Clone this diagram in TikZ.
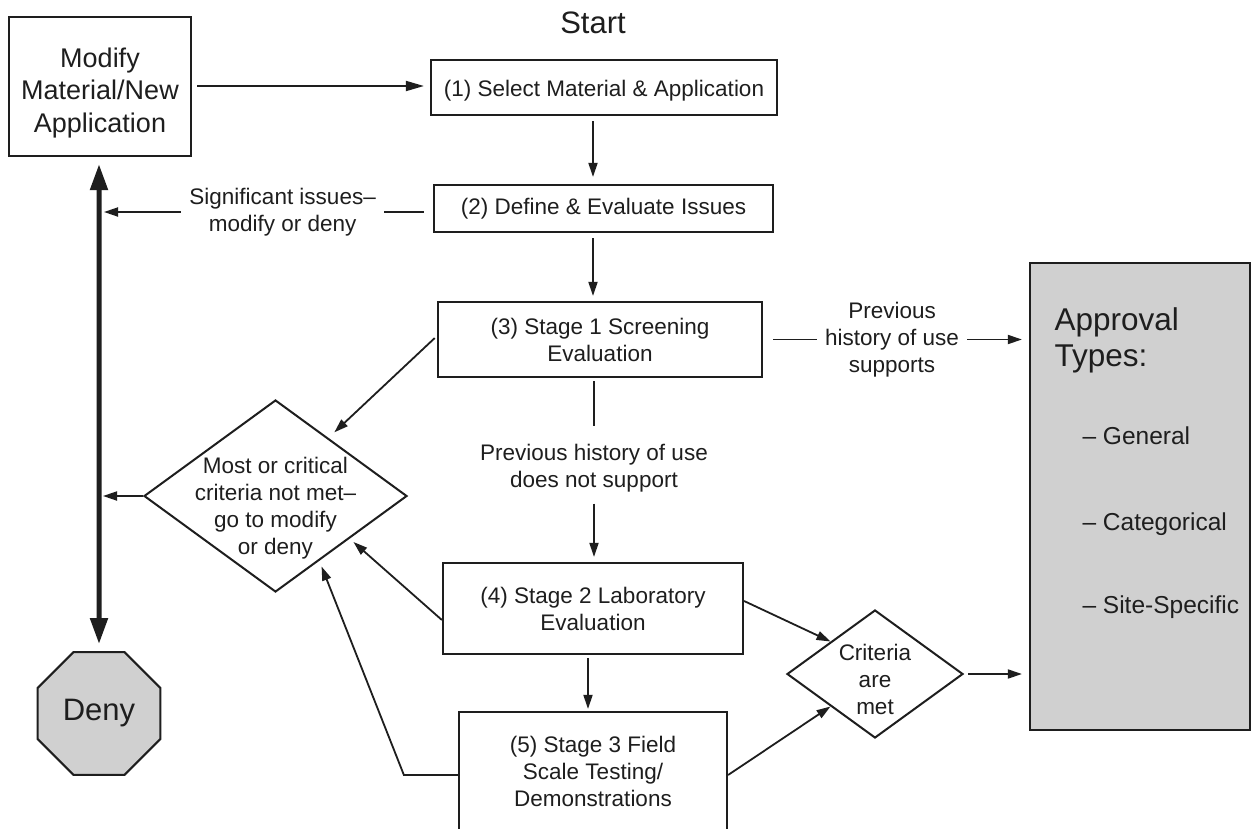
\documentclass[tikz,border=0pt]{standalone}
\usepackage{fontspec}
\setmainfont{Liberation Sans}
\usetikzlibrary{arrows.meta,shapes.geometric,calc}
\definecolor{ink}{RGB}{30,30,30}
\definecolor{panel}{RGB}{208,208,208}

\begin{document}
\begin{tikzpicture}[x=1pt,y=-1pt,
  txt/.style={font=\fontsize{22.5}{27}\selectfont, text=ink, align=center},
  box/.style={txt, draw=ink, line width=2.2pt, rectangle, inner sep=0pt},
  decision/.style={draw=ink, line width=2pt, diamond, inner sep=0pt},
  flow/.style={draw=ink, line width=1.8pt, -{Triangle[length=14pt,width=9pt]}},
  plain/.style={draw=ink, line width=1.8pt},
  gap/.style={txt, fill=white, inner xsep=8pt, inner ysep=0pt},
]
\clip (0,0) rectangle (1253,828);
\fill[white] (0,0) rectangle (1253,828);

% --- title
\node[txt, font=\fontsize{31}{36}\selectfont] (start) at (593,23) {Start};

% --- process boxes
\node[box, minimum width=182pt, minimum height=139pt,
  label={[txt, font=\fontsize{27}{32.5}\selectfont, yshift=-6.5pt]center:Modify\\Material/New\\Application}] (mod) at (100,86.5) {};
\node[box, minimum width=346pt, minimum height=55pt,
  label={[txt, yshift=-3.5pt]center:(1) Select Material \& Application}] (b1) at (604,87.5) {};
\node[box, minimum width=339pt, minimum height=47pt] (b2) at (603.5,208.5) {(2) Define \& Evaluate Issues};
\node[box, minimum width=324pt, minimum height=75pt] (b3) at (600,339.5) {(3) Stage 1 Screening\\Evaluation};
\node[box, minimum width=300pt, minimum height=91pt] (b4) at (593,608.5) {(4) Stage 2 Laboratory\\Evaluation};
\node[box, minimum width=268pt, minimum height=119pt] (b5) at (593,771.5) {(5) Stage 3 Field\\Scale Testing/\\Demonstrations};

% --- approval panel
\node[draw=ink, fill=panel, line width=2.2pt, minimum width=220pt, minimum height=467pt, inner sep=0pt] (appr) at (1140,496.5) {};
\node[txt, font=\fontsize{31.5}{36}\selectfont, anchor=base west] (apA) at (1051,330) {Approval};
\node[txt, font=\fontsize{31.5}{36}\selectfont, anchor=base west] (apB) at (1051,366) {Types:};
\node[txt, font=\fontsize{24.5}{29}\selectfont, anchor=base west] (apG) at (1079,444) {– General};
\node[txt, font=\fontsize{24.5}{29}\selectfont, anchor=base west] (apC) at (1079,530) {– Categorical};
\node[txt, font=\fontsize{24.5}{29}\selectfont, anchor=base west] (apS) at (1079,613) {– Site-Specific};

% --- decisions
\node[decision, minimum width=263pt, minimum height=192pt,
  label={[txt, yshift=-12.5pt]center:Most or critical\\criteria not met–\\go to modify\\or deny}] (d1) at (275.5,496) {};
\node[decision, minimum width=176pt, minimum height=128pt,
  label={[txt, yshift=-5pt]center:Criteria\\are\\met}] (cr) at (875,674) {};

% --- stop sign
\node[draw=ink, fill=panel, line width=2pt, regular polygon, regular polygon sides=8,
  minimum size=133pt, inner sep=0pt, font=\fontsize{31}{36}\selectfont, text=ink] (deny) at (99,713.5) {Deny};

\node[txt] (t34) at (594,468) {Previous history of use\\does not support};

% --- trunk between modify and deny
\draw[ink, line width=5pt, {Triangle[length=26pt,width=17pt]}-{Triangle[length=26pt,width=17pt]},
  shorten <=7pt, shorten >=7pt] (mod.south -| deny.center) -- (deny.north);

% --- connectors
\draw[flow, -{Triangle[length=18pt,width=10pt]}, shorten <=5pt, shorten >=6pt] ([yshift=0.5pt]mod.east) -- ([yshift=0.5pt]mod.east -| b1.west);
\draw[flow, shorten <=5pt, shorten >=7pt] ([xshift=-11pt]b1.south) -- ([xshift=-10.5pt]b2.north);
\draw[flow, shorten <=5pt, shorten >=5pt] ([xshift=-10.5pt]b2.south) -- ([xshift=-7pt]b3.north);

\draw[flow, shorten <=9pt, shorten >=5pt] ([yshift=-3.5pt]b2.west)
  -- node[gap, pos=0.45] (sig) {Significant issues–\\modify or deny} ([yshift=-3.5pt]b2.west -| deny.center);

\draw[flow, shorten <=10pt, shorten >=7pt] (b3.east)
  -- node[gap, pos=0.485] (sup) {Previous\\history of use\\supports} (b3.east -| appr.west);

\draw[plain, shorten <=3pt, shorten >=14pt] (b3.south -| t34.north) -- (t34.north);
\draw[flow, shorten <=8pt, shorten >=5pt] (t34.south) -- (t34.south |- b4.north);

\draw[flow, shorten <=3pt, shorten >=8pt] ([yshift=3.5pt]b3.west) -- ($(d1.north)!0.4!(d1.east)$);
\draw[flow, shorten >=5pt] ([yshift=-11.5pt]b4.west) -- ($(d1.east)!0.44!(d1.south)$);
\draw[flow, shorten >=6pt] ([yshift=-3.5pt]b5.west) -- ++(-54,0) -- ($(d1.east)!0.669!(d1.south)$);
\draw[flow, shorten >=4pt] (d1.west) -- (d1.west -| deny.center);

\draw[flow, shorten <=3pt, shorten >=2pt] ([xshift=-5pt]b4.south) -- ([xshift=-5pt]b4.south |- b5.north);
\draw[flow] ([yshift=7.5pt]b4.east) -- (cr.north west);
\draw[flow] ([yshift=-3.5pt]b5.east) -- (cr.south west);
\draw[flow, shorten <=4pt, shorten >=7pt] (cr.east) -- (cr.east -| appr.west);
\end{tikzpicture}
\end{document}
